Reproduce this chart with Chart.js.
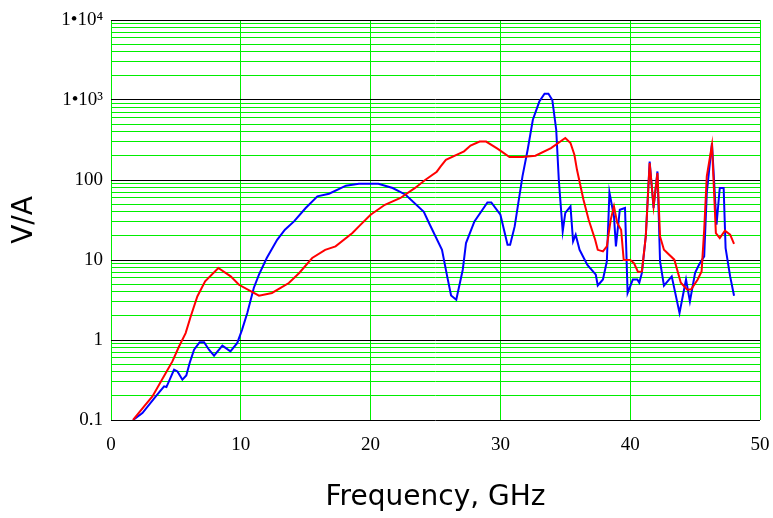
<!DOCTYPE html>
<html>
<head>
<meta charset="utf-8">
<script src="https://cdn.jsdelivr.net/npm/chart.js@4.4.0/dist/chart.umd.min.js"></script>
<style>
  body { margin: 0; background: #fff; }
  #box { width: 773px; height: 518px; }
</style>
</head>
<body>
<div id="box"><canvas id="grafico" width="773" height="518"></canvas></div>
<script>
// frequencia (GHz) e V/A - curva vermelha
const freqRed = [1.7, 2.55, 3.19, 4.22, 4.73, 5.24, 5.75, 6.14, 6.65, 7.25, 8.27, 9.22, 9.86, 11.4, 12.4, 13.7, 14.5, 15.5, 16.5, 17.3, 18.6, 19.1, 20.0, 21.1, 22.3, 23.4, 24.2, 25.1, 25.4, 25.8, 27.2, 27.7, 28.4, 28.9, 29.8, 30.7, 31.7, 32.7, 33.9, 35.0, 35.4, 35.7, 35.9, 36.4, 36.8, 37.3, 37.5, 37.9, 38.2, 38.5, 38.75, 39.0, 39.3, 39.5, 40.0, 40.3, 40.6, 40.9, 41.2, 41.5, 41.8, 42.1, 42.3, 42.6, 43.4, 43.9, 44.4, 44.7, 45.2, 45.5, 45.7, 45.9, 46.3, 46.6, 46.9, 47.3, 47.7, 48.0];
const valRed = [0.1, 0.148, 0.197, 0.387, 0.54, 0.83, 1.22, 1.97, 3.5, 5.4, 7.94, 6.24, 4.9, 3.58, 3.87, 5.16, 6.88, 10.6, 13.4, 14.8, 21.8, 26.3, 36.8, 49, 59.6, 79, 100, 127, 148, 179, 228, 269, 302, 302, 245, 194, 194, 201, 251, 335, 290, 207, 134, 56.7, 31.9, 17.9, 13.4, 12.8, 14.8, 31.9, 46.8, 29, 23.9, 10, 10, 9.1, 7.08, 7.2, 19.7, 163, 46.8, 122, 19.7, 13.4, 10.1, 5.2, 4.25, 4.3, 5.7, 7.2, 23.9, 111, 275, 21.7, 18.8, 23.2, 20.7, 15.9];

// curva azul
const freqBlue = [1.7, 2.42, 3.45, 4.09, 4.27, 4.86, 5.12, 5.5, 5.8, 6.06, 6.4, 6.83, 7.17, 7.55, 7.94, 8.58, 9.2, 9.73, 10.1, 10.5, 11.0, 11.4, 12.0, 12.8, 13.4, 14.1, 15.0, 15.9, 16.8, 18.1, 19.1, 20.6, 21.7, 22.7, 24.1, 24.5, 25.5, 25.9, 26.2, 26.6, 27.1, 27.35, 28.0, 29.0, 29.3, 30.0, 30.55, 30.75, 31.1, 31.7, 32.1, 32.5, 33.0, 33.4, 33.7, 34.0, 34.3, 34.5, 34.8, 35.0, 35.4, 35.6, 35.8, 36.1, 36.7, 37.35, 37.5, 37.9, 38.2, 38.4, 38.75, 38.9, 39.2, 39.6, 39.8, 40.2, 40.55, 40.7, 40.9, 41.2, 41.5, 41.8, 42.1, 42.3, 42.6, 43.2, 43.8, 44.3, 44.6, 45.0, 45.3, 45.7, 45.9, 46.3, 46.65, 46.9, 47.2, 47.35, 47.7, 48.0];
const valBlue = [0.1, 0.122, 0.197, 0.263, 0.258, 0.426, 0.405, 0.319, 0.361, 0.516, 0.756, 0.94, 0.94, 0.756, 0.637, 0.85, 0.72, 0.92, 1.35, 2.18, 4.47, 6.55, 10.6, 17.9, 23.9, 30.4, 44.7, 62.4, 67.4, 84.9, 89.9, 89.9, 79.4, 65.5, 40, 29, 13.4, 6.24, 3.6, 3.19, 7.56, 16.3, 30.4, 52.5, 52.5, 36.8, 15.5, 15.5, 26.3, 111, 239, 567, 956, 1200, 1200, 1000, 425, 100, 22.8, 38.7, 46.8, 17.1, 20.7, 13.4, 8.7, 6.55, 4.8, 5.7, 9.6, 70, 35, 14.8, 42.5, 44.7, 3.87, 5.7, 5.7, 5.2, 6.9, 19.7, 170, 44.7, 128, 9.6, 4.77, 6.24, 2.18, 5.7, 3.04, 6.9, 8.7, 11.1, 68.8, 290, 27.6, 79.4, 79.4, 14.1, 6.24, 3.58];

// eixos
const xTicks = [0, 10, 20, 30, 40, 50];
const yDecades = [0.1, 1, 10, 100, 1000, 10000];
const yTickLabels = ["0.1", "1", "10", "100", "1\u202210\u00B3", "1\u202210\u2074"];

const grafico = document.getElementById("grafico");

// linhas de grade: decadas + 2..9 em cada decada
let yGrid = [];
yDecades.forEach((d, i) => {
    yGrid.push(d);
    if (i < yDecades.length - 1) {
        for (let k = 2; k <= 9; k++) yGrid.push(+(d * k).toPrecision(6));
    }
});

function isDecade(v) {
    const l = Math.log10(v);
    return Math.abs(l - Math.round(l)) < 1e-9;
}

const toPoints = (xs, ys) => xs.map((x, i) => ({ x: x, y: ys[i] }));

const tickFont = { family: "'Liberation Serif', 'Times New Roman', serif", size: 19 };
const titleFont = { family: "'Comic Sans MS', 'DejaVu Sans', sans-serif", size: 28 };

new Chart(grafico, {
    type: "line",
    data: {
        datasets: [
            {
                data: toPoints(freqRed, valRed),
                borderColor: "#ff0000",
                borderWidth: 2,
                pointRadius: 0,
                tension: 0,
            },
            {
                data: toPoints(freqBlue, valBlue),
                borderColor: "#0000ff",
                borderWidth: 2,
                pointRadius: 0,
                tension: 0,
            },
        ],
    },
    options: {
        responsive: false,
        animation: false,
        layout: { padding: { top: 20, right: 13, left: 0, bottom: 0 } },
        plugins: {
            legend: { display: false },
            tooltip: { enabled: false },
        },
        scales: {
            x: {
                type: "linear",
                min: 0,
                max: 50,
                afterBuildTicks: (scale) => {
                    scale.ticks = xTicks.map((v) => ({ value: v }));
                },
                ticks: { font: tickFont, color: "#000", padding: 14, maxRotation: 0 },
                grid: { color: "#00ee00", drawTicks: false, lineWidth: 1 },
                border: { display: false },
                title: {
                    display: true,
                    text: "Frequency, GHz",
                    font: titleFont,
                    color: "#000",
                    padding: { top: 0, bottom: 3 },
                },
                afterFit: (scale) => {
                    scale.height = 98;
                    scale.paddingLeft = 0;
                    scale.paddingRight = 0;
                },
            },
            y: {
                type: "logarithmic",
                min: 0.1,
                max: 10000,
                afterBuildTicks: (scale) => {
                    scale.ticks = yGrid.map((v) => ({ value: v }));
                },
                ticks: {
                    font: tickFont,
                    color: "#000",
                    padding: 8,
                    autoSkip: false,
                    callback: (value) => {
                        const i = yDecades.findIndex((d) => Math.abs(d - value) / d < 1e-6);
                        return i >= 0 ? yTickLabels[i] : "";
                    },
                },
                grid: {
                    drawTicks: false,
                    lineWidth: 1,
                    color: (ctx) => (ctx.tick && isDecade(ctx.tick.value) ? "#000000" : "#00ee00"),
                },
                border: { display: false },
                title: {
                    display: true,
                    text: "V/A",
                    font: titleFont,
                    color: "#000",
                    padding: { top: 8, bottom: 0 },
                },
                afterFit: (scale) => {
                    scale.width = 111;
                    scale.paddingTop = 0;
                    scale.paddingBottom = 0;
                },
            },
        },
    },
});
</script>
</body>
</html>
